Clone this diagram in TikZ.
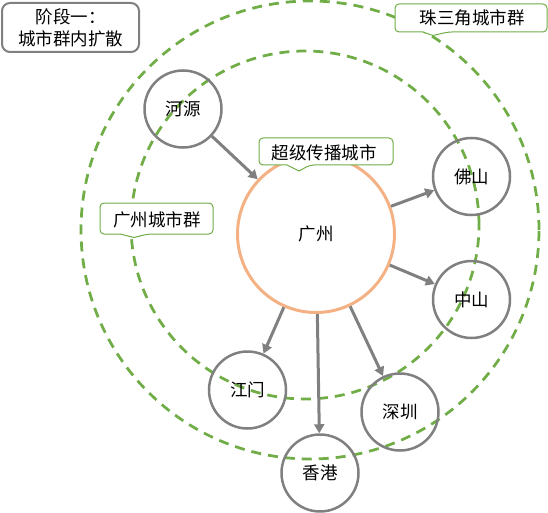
\documentclass[tikz,border=0pt]{standalone}
\usepackage{fontspec}
\setmainfont{Noto Sans CJK SC}
\usetikzlibrary{arrows.meta}
\definecolor{ggreen}{RGB}{112,173,71}
\definecolor{ggray}{RGB}{128,128,128}
\definecolor{gorange}{RGB}{244,177,131}
\begin{document}
\begin{tikzpicture}[x=1pt,y=-1pt,
  font=\fontsize{17.5pt}{22pt}\selectfont,
  city/.style={circle,draw=ggray,line width=2.5pt,minimum size=77pt,inner sep=0pt},
  hub/.style={circle,draw=gorange,line width=3pt,minimum size=157pt,inner sep=0pt},
  ring/.style={draw=ggreen,line width=2.75pt,dash pattern=on 10pt off 7pt},
  link/.style={draw=ggray,line width=3pt,-{Triangle[length=9pt,width=10pt]}},
  callout/.style={draw=ggreen,line width=1pt,fill=white},
  stagebox/.style={draw=ggray,line width=2pt,rounded corners=8pt,minimum width=137pt,minimum height=49pt,align=center,inner sep=0pt}]
\useasboundingbox (0,0) rectangle (548,513);

% dashed rings
\draw[ring] (310,230) circle[radius=229pt];
\draw[ring] (305,225) circle[radius=174pt];

% nodes
\node[hub] (gz) at (316,234) {广州};
\node[city] (hy) at (183,109) {河源};
\node[city] (fs) at (471.5,176.5) {佛山};
\node[city] (zs) at (471.5,299.5) {中山};
\node[city] (jm) at (247.5,390) {江门};
\node[city] (xg) at (320,473) {香港};
\node[city] (sz) at (400,412) {深圳};

% connectors
\draw[link] (hy) -- (gz);
\draw[link] (gz) -- (fs);
\draw[link] (gz) -- (zs);
\draw[link] (gz) -- (jm);
\draw[link] (gz) -- (xg);
\draw[link] (gz) -- (sz);

% stage box
\node[stagebox] (stage) at (70.5,27.5) {阶段一：\\城市群内扩散};

% callout: 珠三角城市群
\draw[callout] (433,35.5) -- (423,32) [rounded corners=4pt] -- (395,32) -- (395,4) -- (547,4) -- (547,32) -- (448,32) [sharp corners] -- cycle;
\node (prd) at (472,18) {珠三角城市群};

% callout: 超级传播城市
\draw[callout] (299,171) -- (287,165) [rounded corners=4pt] -- (259,165) -- (259,138) -- (393,138) -- (393,165) -- (310,165) [sharp corners] -- cycle;
\node (super) at (324,152.5) {超级传播城市};

% callout: 广州城市群
\draw[callout] (134,237.5) -- (120,234) [rounded corners=4pt] -- (100,234) -- (100,203) -- (213,203) -- (213,234) -- (148,234) [sharp corners] -- cycle;
\node (gzc) at (157,219.5) {广州城市群};
\end{tikzpicture}
\end{document}
